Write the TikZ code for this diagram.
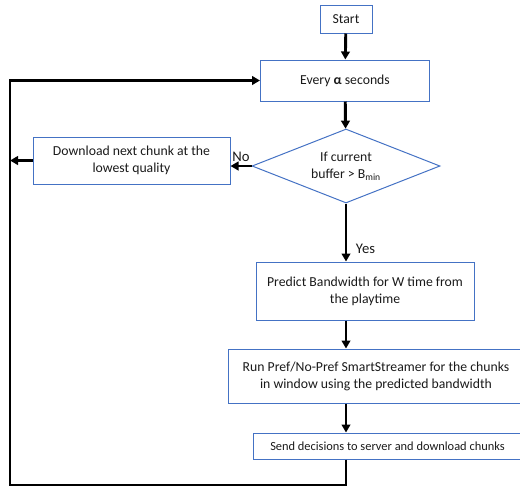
\documentclass[tikz,border=0pt]{standalone}
\usepackage{fontspec}
\setmainfont{Carlito}
\usetikzlibrary{shapes.geometric,arrows.meta}
\definecolor{B1}{HTML}{4472C4}
\definecolor{T1}{HTML}{1A1A1A}
\tikzset{blk/.style 2 args = {
    rectangle,
    minimum width = #1*0.75pt,
    minimum height = #2*0.75pt,
    inner sep = 0pt,
    draw = B1,
    line width = 0.75pt,
    align = center,
    text = T1,
    font = \fontsize{10.3}{12.7}\selectfont,
}}
\tikzset{dec/.style 2 args = {
    diamond,
    aspect = 2.54,
    minimum width = #1*0.75pt,
    minimum height = #2*0.75pt,
    inner sep = 0pt,
    draw = B1,
    line width = 0.75pt,
    align = center,
    text = T1,
    font = \fontsize{10.3}{12.7}\selectfont,
}}
\tikzset{flow/.style = {
    -{Triangle[length=6pt,width=6.5pt]},
    line width = 2.2pt,
    black,
}}
\begin{document}
\begin{tikzpicture}[x=0.75pt,y=-0.75pt]
  \clip (0,0) rectangle (520,487);
  \node[blk={52}{28}](start) at (346, 19) {Start};
  \node[blk={169}{41}](every) at (345, 80.5) {Every \textbf{α} seconds};
  \node[dec={188}{74}](cond) at (346,166) {If current\\buffer > B\textsubscript{min}};
  \node[blk={197}{47}](down) at (131.5,160.5) {Download next chunk at the\\lowest quality};
  \node[blk={218}{58}](pred) at (365,291) {Predict Bandwidth for W time from\\the playtime};
  \node[blk={296}{54}](run) at (376,376) {Run Pref/No-Pref SmartStreamer for the chunks\\in window using the predicted bandwidth};
  \node[blk={269}{26}, font=\fontsize{9.3}{11}\selectfont](send) at (387.5,446) {Send decisions to server and download chunks};
  \coordinate (lp) at (10,485);
  \draw[flow](start) edge (every);
  \draw[flow](every) edge (cond);
  \draw[flow](cond.south) -- (cond.south |- pred.north)
    node[pos=0.78, right=3pt, text=T1, font=\fontsize{11}{13}\selectfont]{Yes};
  \draw[flow](cond.west) -- (cond.west -| down.east)
    node[pos=0.5, above=-1pt, text=T1, font=\fontsize{11}{13}\selectfont]{No};
  \draw[flow](cond.south |- pred.south) -- (cond.south |- run.north);
  \draw[flow](cond.south |- run.south) -- (cond.south |- send.north);
  \draw[flow](down.west) -- (down.west -| lp);
  \draw[flow](cond.south |- send.south) -- (cond.south |- lp) -- (lp) -- (lp |- every.west) -- (every.west);
\end{tikzpicture}
\end{document}
